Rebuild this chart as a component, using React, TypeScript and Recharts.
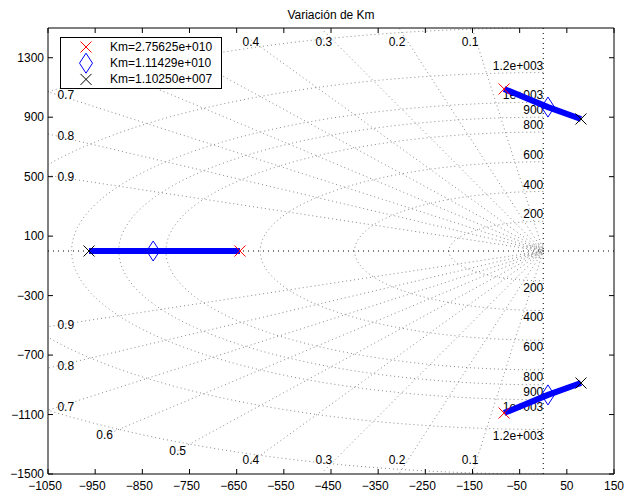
import React from 'react';
import { ComposedChart, Line, Scatter, XAxis, YAxis, ReferenceLine, ReferenceArea, Legend } from 'recharts';

// ---------- data ----------
const xTicks = [-1050, -950, -850, -750, -650, -550, -450, -350, -250, -150, -50, 50, 150];
const yTicks = [-1500, -1100, -700, -300, 100, 500, 900, 1300];
const zetaValues = [0.1, 0.2, 0.3, 0.4, 0.5, 0.6, 0.7, 0.8, 0.9];
const wnCircles = [4, 14, 25, 35, 46, 200, 400, 600, 800, 900, 1000, 1200, 1500];
const wnLabelValues = [200, 400, 600, 800, 900, 1000, 1200];
const wnLabelTexts = ['200', '400', '600', '800', '900', '1e+003', '1.2e+003'];
const legendLabels = ['Km=2.75625e+010', 'Km=1.11429e+010', 'Km=1.10250e+007'];
// poles for each Km (real branch, upper branch, lower branch)
const startPoles = [{ x: -643, y: 0 }, { x: -83, y: 1090 }, { x: -83, y: -1090 }];
const midPoles = [{ x: -827, y: 0 }, { x: 10, y: 968 }, { x: 10, y: -968 }];
const endPoles = [{ x: -963, y: 0 }, { x: 80, y: 888 }, { x: 80, y: -888 }];

// ---------- layout ----------
const W = 625;
const H = 496;
const PL = 48;
const PT = 28;
const PR = 614;
const PB = 474;
const FONT = "'Liberation Sans', Arial, Helvetica, sans-serif";
const GRID = '#8a8a8a';
// legend box (pixels)
const LG = { left: 60, top: 37, width: 162, height: 52 };

// ---------- grid geometry (s-plane grid) ----------
const circleData = wnCircles.map((wn) =>
  Array.from({ length: 121 }, (_, i) => {
    const a = Math.PI / 2 + (i * Math.PI) / 120;
    return { x: wn * Math.cos(a), y: wn * Math.sin(a) };
  })
);
const RAY_R = 1550;
const rayData = zetaValues.map((z) => {
  const s = Math.sqrt(1 - z * z);
  return [
    { x: -RAY_R * z, y: RAY_R * s },
    { x: 0, y: 0 },
    { x: -RAY_R * z, y: -RAY_R * s },
  ];
});
const zetaLabelPos = (z: number, sign: number) => {
  let x = -RAY_R * z;
  let y = sign * RAY_R * Math.sqrt(1 - z * z);
  let anchor = 'middle';
  if (x < -1030) {
    const t = -1030 / x;
    x = -1030;
    y *= t;
    anchor = 'start';
  }
  if (Math.abs(y) > 1405) y = sign * 1405;
  return { x, y, label: String(z), anchor };
};
// labels hidden behind the legend box in the reference are not drawn
const pxX = (x: number) => PL + ((x + 1050) / 1200) * (PR - PL);
const pxY = (y: number) => PT + ((1500 - y) / 3000) * (PB - PT);
const underLegend = (p: { x: number; y: number }) =>
  pxX(p.x) > LG.left && pxX(p.x) < LG.left + LG.width && pxY(p.y) > LG.top && pxY(p.y) < LG.top + LG.height;
const zetaLabels = [
  ...zetaValues.map((z) => zetaLabelPos(z, 1)),
  ...zetaValues.map((z) => zetaLabelPos(z, -1)),
].filter((p) => !underLegend(p));
const wnLabels = [
  ...wnLabelValues.map((v, i) => ({ x: 0, y: v, label: wnLabelTexts[i], sign: 1 })),
  ...wnLabelValues.map((v, i) => ({ x: 0, y: -v, label: wnLabelTexts[i], sign: -1 })),
];
const branches = startPoles.map((p, i) => [p, midPoles[i], endPoles[i]]);

const fmt = (v: number) => (v < 0 ? '\u2212' + Math.abs(v) : String(v));

const renderXTick = (props: any) => {
  const { x, payload } = props;
  const v = payload.value;
  return (
    <g>
      <line x1={x} x2={x} y1={PB} y2={PB - 5} stroke="#000" />
      <line x1={x} x2={x} y1={PT} y2={PT + 5} stroke="#000" />
      <text x={x + (v < 0 ? -3 : 0)} y={PB + 12} textAnchor="middle" dominantBaseline="central" fontSize={12} fontFamily={FONT} fill="#000">
        {fmt(v)}
      </text>
    </g>
  );
};
const renderYTick = (props: any) => {
  const { y, payload } = props;
  return (
    <g>
      <line x1={PL} x2={PL + 5} y1={y} y2={y} stroke="#000" />
      <line x1={PR} x2={PR - 5} y1={y} y2={y} stroke="#000" />
      <text x={44} y={y} textAnchor="end" dominantBaseline="central" fontSize={12} fontFamily={FONT} fill="#000">
        {fmt(payload.value)}
      </text>
    </g>
  );
};

const XMark = ({ cx, cy, color }: any) => (
  <g>
    <line x1={cx - 5.5} y1={cy - 5.5} x2={cx + 5.5} y2={cy + 5.5} stroke={color} strokeWidth={1} />
    <line x1={cx - 5.5} y1={cy + 5.5} x2={cx + 5.5} y2={cy - 5.5} stroke={color} strokeWidth={1} />
  </g>
);
const DiamondMark = ({ cx, cy }: any) => (
  <polygon
    points={`${cx},${cy - 10} ${cx + 6.5},${cy} ${cx},${cy + 10} ${cx - 6.5},${cy}`}
    fill="none"
    stroke="#0000ff"
    strokeWidth={1}
  />
);

const renderLegend = () => (
  <svg width={LG.width} height={LG.height} style={{ display: 'block' }}>
    <rect x={0.5} y={0.5} width={LG.width - 1} height={LG.height - 1} fill="#fff" stroke="#000" />
    {legendLabels.map((t, i) => {
      const cy = 10 + i * 16.2;
      return (
        <g key={t}>
          {i === 0 && <XMark cx={26} cy={cy} color="#ff0000" />}
          {i === 1 && <DiamondMark cx={26} cy={cy} />}
          {i === 2 && <XMark cx={26} cy={cy} color="#000000" />}
          <text x={50} y={cy} dominantBaseline="central" fontSize={12} fontFamily={FONT} fill="#000">
            {t}
          </text>
        </g>
      );
    })}
  </svg>
);

export default function App() {
  return (
    <div style={{ position: 'absolute', left: 0, top: 0, width: W, height: H, background: '#fff' }}>
      <div
        style={{
          position: 'absolute',
          left: 0,
          top: 7,
          width: 662,
          textAlign: 'center',
          fontSize: 12,
          lineHeight: '16px',
          fontFamily: FONT,
          color: '#000',
        }}
      >
        Variación de Km
      </div>
      <ComposedChart width={W} height={H} margin={{ top: PT, right: W - PR, bottom: 0, left: 0 }}>
        <XAxis
          type="number"
          dataKey="x"
          domain={[-1050, 150]}
          ticks={xTicks}
          interval={0}
          allowDataOverflow
          height={H - PB}
          tickLine={false}
          axisLine={false}
          tick={renderXTick}
        />
        <YAxis
          type="number"
          dataKey="y"
          domain={[-1500, 1500]}
          ticks={yTicks}
          interval={0}
          allowDataOverflow
          width={PL}
          tickLine={false}
          axisLine={false}
          tick={renderYTick}
        />
        {circleData.map((d, i) => (
          <Line
            key={'c' + i}
            data={d}
            dataKey="y"
            type="linear"
            stroke={GRID}
            strokeWidth={1}
            strokeDasharray="1 3"
            dot={false}
            activeDot={false}
            isAnimationActive={false}
            zIndex={100}
          />
        ))}
        {rayData.map((d, i) => (
          <Line
            key={'r' + i}
            data={d}
            dataKey="y"
            type="linear"
            stroke={GRID}
            strokeWidth={1}
            strokeDasharray="1 3"
            dot={false}
            activeDot={false}
            isAnimationActive={false}
            zIndex={100}
          />
        ))}
        <ReferenceLine y={0} stroke="#000" strokeDasharray="1 4" zIndex={110} />
        <ReferenceLine x={0} stroke="#000" strokeDasharray="1 4" zIndex={110} />
        <Scatter
          data={zetaLabels}
          isAnimationActive={false}
          zIndex={150}
          shape={(p: any) => (
            <text
              x={p.cx}
              y={p.cy}
              textAnchor={p.payload.anchor}
              dominantBaseline="central"
              fontSize={12}
              fontFamily={FONT}
              fill="#000"
            >
              {p.payload.label}
            </text>
          )}
        />
        <Scatter
          data={wnLabels}
          isAnimationActive={false}
          zIndex={150}
          shape={(p: any) => (
            <text
              x={p.cx}
              y={p.cy + (p.payload.sign > 0 ? -7 : 7)}
              textAnchor="end"
              dominantBaseline="central"
              fontSize={12}
              fontFamily={FONT}
              fill="#000"
            >
              {p.payload.label}
            </text>
          )}
        />
        {branches.map((d, i) => (
          <Line
            key={'b' + i}
            data={d}
            dataKey="y"
            type="linear"
            stroke="#0000ff"
            strokeWidth={6}
            dot={false}
            activeDot={false}
            isAnimationActive={false}
            zIndex={400}
          />
        ))}
        <Scatter data={startPoles} isAnimationActive={false} zIndex={600} shape={(p: any) => <XMark cx={p.cx} cy={p.cy} color="#ff0000" />} />
        <Scatter data={midPoles} isAnimationActive={false} zIndex={600} shape={(p: any) => <DiamondMark cx={p.cx} cy={p.cy} />} />
        <Scatter data={endPoles} isAnimationActive={false} zIndex={600} shape={(p: any) => <XMark cx={p.cx} cy={p.cy} color="#000000" />} />
        <ReferenceArea
          x1={-1050}
          x2={150}
          y1={-1500}
          y2={1500}
          fill="none"
          fillOpacity={0}
          stroke="#000"
          strokeWidth={1}
          zIndex={700}
        />
        <Legend
          layout="horizontal"
          verticalAlign="middle"
          align="center"
          content={renderLegend}
          wrapperStyle={{ position: 'absolute', left: LG.left, top: LG.top, width: LG.width, height: LG.height }}
        />
      </ComposedChart>
    </div>
  );
}
